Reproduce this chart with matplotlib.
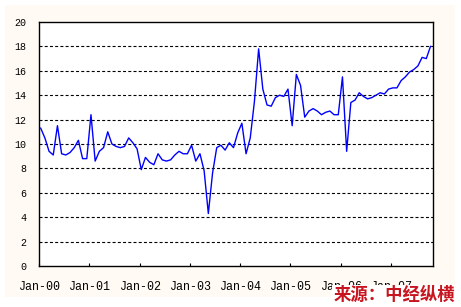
import numpy as np
import matplotlib.pyplot as plt
from matplotlib.patches import Rectangle

# monthly values, Jan-2000 .. Oct-2007
values = [
    11.3, 10.5, 9.4, 9.1, 11.5, 9.2, 9.1, 9.3, 9.7, 10.3, 8.8, 8.8,      # 2000
    12.4, 8.6, 9.4, 9.7, 11.0, 10.0, 9.8, 9.7, 9.8, 10.5, 10.1, 9.6,     # 2001
    7.9, 8.9, 8.5, 8.3, 9.2, 8.7, 8.6, 8.7, 9.1, 9.4, 9.2, 9.2,          # 2002
    9.9, 8.6, 9.2, 7.8, 4.3, 7.6, 9.7, 9.9, 9.5, 10.1, 9.7, 10.9,        # 2003
    11.7, 9.2, 10.5, 13.5, 17.8, 14.5, 13.2, 13.1, 13.8, 14.0, 13.9, 14.5,  # 2004
    11.5, 15.7, 14.8, 12.2, 12.7, 12.9, 12.7, 12.4, 12.6, 12.7, 12.4, 12.4,  # 2005
    15.5, 9.4, 13.4, 13.6, 14.2, 13.9, 13.7, 13.8, 14.0, 14.2, 14.1, 14.5,   # 2006
    14.6, 14.6, 15.2, 15.5, 15.9, 16.1, 16.4, 17.1, 17.0, 18.0,            # 2007
]
tick_labels = ['Jan-00', 'Jan-01', 'Jan-02', 'Jan-03', 'Jan-04',
               'Jan-05', 'Jan-06', 'Jan-07']
y_ticks = [0, 2, 4, 6, 8, 10, 12, 14, 16, 18, 20]
source = '来源：中经纵横'

W, H = 461, 307
fig = plt.figure(figsize=(W / 100, H / 100), dpi=100)
fig.patch.set_facecolor('white')
# cream frame
fig.patches.append(Rectangle((5 / W, 10 / H), 450 / W, 292 / H,
                             transform=fig.transFigure, facecolor='#fffaf3',
                             edgecolor='none', zorder=-10))

ax = fig.add_axes([39 / W, 41 / H, 394 / W, 244 / H])
ax.set_facecolor('white')

x = np.arange(len(values)) + 0.4
ax.plot(x, values, color='#0000ff', lw=1.0)

ax.set_xlim(0, 94)
ax.set_ylim(0, 20)
for yv in y_ticks[1:-1]:
    ax.axhline(yv, color='black', lw=0.8, ls=(0, (2.7, 2.0)), zorder=0)

ax.set_xticks(np.arange(len(tick_labels)) * 12)
ax.set_xticklabels(tick_labels, family='Liberation Mono', fontsize=8.4)
ax.set_yticks(y_ticks)
ax.set_yticklabels([str(v) for v in y_ticks], family='Liberation Mono',
                   fontsize=7.2)
ax.tick_params(axis='x', direction='in', length=2.5, width=0.8, pad=11)
ax.tick_params(axis='y', length=0, pad=9)
for s in ax.spines.values():
    s.set_color('black')
    s.set_linewidth(1.0)

fig.text(455 / W, 3 / H, source, ha='right', va='bottom',
         fontsize=12.5, fontweight='bold', style='italic', color='#c8141e',
         family=['Noto Sans CJK SC', 'DejaVu Sans'], zorder=5,
         bbox=dict(facecolor='white', edgecolor='none', pad=1.0))

fig.savefig('out.png', dpi=100)
